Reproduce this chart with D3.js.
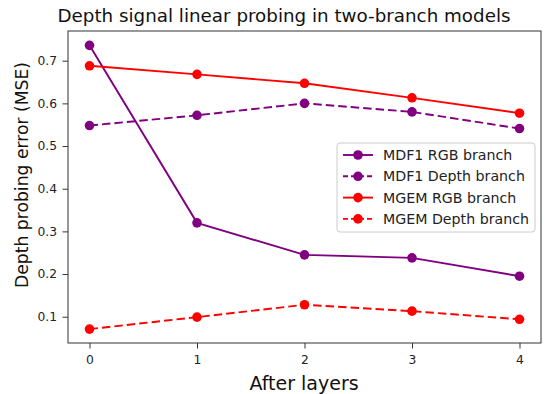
<!DOCTYPE html>
<html>
<head>
<meta charset="utf-8">
<script src="https://cdn.jsdelivr.net/npm/d3@7"></script>
<style>
  html, body { margin: 0; padding: 0; background: #fff; }
  svg { display: block; font-family: "DejaVu Sans", sans-serif; }
</style>
</head>
<body>
<svg id="chart" width="553" height="394"></svg>
<script>
// Layer indices on the x axis
const layers = [0, 1, 2, 3, 4];
const yTicks = [0.1, 0.2, 0.3, 0.4, 0.5, 0.6, 0.7];

// Probing error (MSE) per layer for each branch
const mdf1Rgb   = [0.736, 0.320, 0.245, 0.238, 0.195];
const mdf1Depth = [0.548, 0.572, 0.600, 0.580, 0.541];
const mgemRgb   = [0.688, 0.668, 0.647, 0.613, 0.577];
const mgemDepth = [0.071, 0.099, 0.128, 0.113, 0.094];

const seriesNames = ["MDF1 RGB branch", "MDF1 Depth branch", "MGEM RGB branch", "MGEM Depth branch"];
const seriesValues = [mdf1Rgb, mdf1Depth, mgemRgb, mgemDepth];
const seriesColors = ["#800080", "#800080", "#ff0000", "#ff0000"];
const seriesDashed = [false, true, false, true];
const dashPattern = "8.5,4";

const svg = d3.select("#chart");
const plot = { left: 68, top: 31, right: 541, bottom: 343 };

const x = d3.scaleLinear().domain([-0.2, 4.2]).range([plot.left, plot.right]);
const y = d3.scaleLinear().domain([0.0384, 0.7696]).range([plot.bottom, plot.top]);

// Axes
const xAxis = svg.append("g")
  .attr("transform", `translate(0,${plot.bottom})`)
  .call(d3.axisBottom(x).tickValues(layers).tickFormat(d3.format("d")).tickSize(5.5).tickPadding(6.5));
const yAxis = svg.append("g")
  .attr("transform", `translate(${plot.left},0)`)
  .call(d3.axisLeft(y).tickValues(yTicks).tickFormat(d3.format(".1f")).tickSize(5.5).tickPadding(5.5));
[xAxis, yAxis].forEach(g => {
  g.select(".domain").remove();
  g.selectAll("text").attr("font-size", 12.3).attr("fill", "#222").attr("font-family", "DejaVu Sans, sans-serif");
  g.selectAll("line").attr("stroke", "#333");
});

// Frame
svg.append("rect")
  .attr("x", plot.left).attr("y", plot.top)
  .attr("width", plot.right - plot.left).attr("height", plot.bottom - plot.top)
  .attr("fill", "none").attr("stroke", "#333").attr("stroke-width", 1);

// Lines and markers
const line = d3.line().x((d, i) => x(layers[i])).y(d => y(d));
seriesValues.forEach((vals, k) => {
  svg.append("path")
    .attr("d", line(vals))
    .attr("fill", "none")
    .attr("stroke", seriesColors[k])
    .attr("stroke-width", 1.9)
    .attr("stroke-dasharray", seriesDashed[k] ? dashPattern : null);
  svg.append("g").selectAll("circle").data(vals).join("circle")
    .attr("cx", (d, i) => x(layers[i]))
    .attr("cy", d => y(d))
    .attr("r", 4.8)
    .attr("fill", seriesColors[k]);
});

// Title and axis labels
svg.append("text")
  .attr("x", 284).attr("y", 22)
  .attr("text-anchor", "middle")
  .attr("font-size", 18.3).attr("fill", "#111")
  .text("Depth signal linear probing in two-branch models");
svg.append("text")
  .attr("x", 304).attr("y", 390)
  .attr("text-anchor", "middle")
  .attr("font-size", 19).attr("fill", "#111")
  .text("After layers");
svg.append("text")
  .attr("transform", "translate(28,175) rotate(-90)")
  .attr("text-anchor", "middle")
  .attr("font-size", 17.2).attr("fill", "#111")
  .text("Depth probing error (MSE)");

// Legend
const legend = svg.append("g").attr("transform", "translate(337,143)");
legend.append("rect")
  .attr("width", 198).attr("height", 89)
  .attr("rx", 3).attr("fill", "#fff").attr("fill-opacity", 0.8)
  .attr("stroke", "#ccc").attr("stroke-width", 1);
seriesNames.forEach((name, k) => {
  const row = legend.append("g").attr("transform", `translate(0,${12 + k * 21.3})`);
  row.append("line")
    .attr("x1", 6).attr("x2", 36).attr("y1", 0).attr("y2", 0)
    .attr("stroke", seriesColors[k]).attr("stroke-width", 1.9)
    .attr("stroke-dasharray", seriesDashed[k] ? "5,3" : null);
  row.append("circle").attr("cx", 21).attr("cy", 0).attr("r", 4.8).attr("fill", seriesColors[k]);
  row.append("text")
    .attr("x", 46).attr("y", 5)
    .attr("font-size", 14.2).attr("fill", "#222")
    .text(name);
});
</script>
</body>
</html>
